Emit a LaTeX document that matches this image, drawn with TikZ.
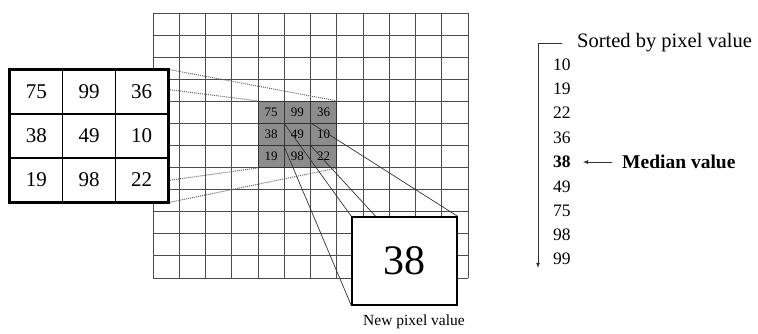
\documentclass[tikz,border=0pt]{standalone}
\usepackage{fontspec}
\setmainfont{Liberation Serif}
\pgfdeclarelayer{grid}
\pgfdeclarelayer{links}
\pgfsetlayers{grid,links,main}
\tikzset{
  cellbox/.style={draw=black,fill=white,line width=1.1pt,minimum width=52.7pt,minimum height=44pt,
    inner sep=0pt,font=\fontsize{21}{21}\selectfont},
  graycell/.style={draw=black!80,fill=black!45,line width=.8pt,minimum width=26.25pt,minimum height=22.08pt,
    inner sep=0pt,font=\fontsize{13}{13}\selectfont},
  listnum/.style={anchor=west,inner sep=0pt,font=\fontsize{17.5}{17.5}\selectfont},
  dotlink/.style={black!60,densely dotted,line width=1pt},
  solidlink/.style={black!80,line width=.7pt},
}
\begin{document}
\begin{tikzpicture}[x=1pt,y=-1pt,>=latex,line cap=round]
  \useasboundingbox (0,0) rectangle (758,333);
  % image grid with the 3x3 neighbourhood shaded
  \begin{pgfonlayer}{grid}
    \foreach \k in {0,...,12} {
      \draw[black!70,line width=.85pt] ({153+\k*26.25},13) -- ({153+\k*26.25},278);
      \draw[black!70,line width=.85pt] (153,{13+\k*22.083}) -- (468,{13+\k*22.083});
    }
    \foreach \v [count=\i from 0] in {75,99,36,38,49,10,19,98,22} {
      \pgfmathtruncatemacro\r{div(\i,3)}
      \pgfmathtruncatemacro\c{mod(\i,3)}
      \node[graycell] (g\r\c) at ({258+(\c+.5)*26.25},{101.33+(\r+.5)*22.083}) {\v};
    }
  \end{pgfonlayer}
  % enlarged neighbourhood
  \foreach \v [count=\i from 0] in {75,99,36,38,49,10,19,98,22} {
    \pgfmathtruncatemacro\r{div(\i,3)}
    \pgfmathtruncatemacro\c{mod(\i,3)}
    \node[cellbox] (t\r\c) at ({10+(\c+.5)*52.67},{70+(\r+.5)*44}) {\v};
  }
  \draw[line width=2pt] (t00.north west) rectangle (t22.south east);
  % new pixel
  \node[draw,fill=white,line width=1.3pt,minimum width=105pt,minimum height=88pt,inner sep=0pt,
    font=\fontsize{42}{42}\selectfont] (newpix) at (404.5,261) {38};
  \node[font=\fontsize{15.5}{15.5}\selectfont] (newcap) at (414,322) {New pixel value};
  \begin{pgfonlayer}{links}
    \draw[dotlink] (t00.north west) -- (g00.north west);
    \draw[dotlink] (t02.north east) -- (g02.north east);
    \draw[dotlink] (t20.south west) -- (g20.south west);
    \draw[dotlink] (t22.south east) -- (g22.south east);
    \draw[solidlink] (g11.north west) -- (newpix.north west);
    \draw[solidlink] (g11.north east) -- (newpix.north east);
    \draw[solidlink] (g11.south west) -- (newpix.south west);
    \draw[solidlink] (g11.south east) -- (newpix.south east);
  \end{pgfonlayer}
  % sorted list
  \node[anchor=west,inner sep=0pt,font=\fontsize{20.5}{20.5}\selectfont] (sorthead) at (577,43) {Sorted by pixel value};
  \coordinate (bend) at (538,43);
  \coordinate (listend) at (538,268);
  \draw[black!80,line width=.8pt,->] ([xshift=-15pt]sorthead.west) -- (bend) -- (listend);
  \foreach \v/\y [count=\n] in {10/65,19/89,22/113,36/138,38/162,49/187,75/211,98/235,99/259}
    \node[listnum] (s\n) at (553,\y) {\ifnum\n=5 \textbf{\v}\else\v\fi};
  \node[anchor=west,inner sep=0pt,font=\fontsize{19.5}{19.5}\selectfont\bfseries] (medlab) at (622,162) {Median value};
  \draw[black!80,line width=.8pt,->] ([xshift=-10pt]medlab.west) -- ([xshift=12pt]s5.east);
\end{tikzpicture}
\end{document}
